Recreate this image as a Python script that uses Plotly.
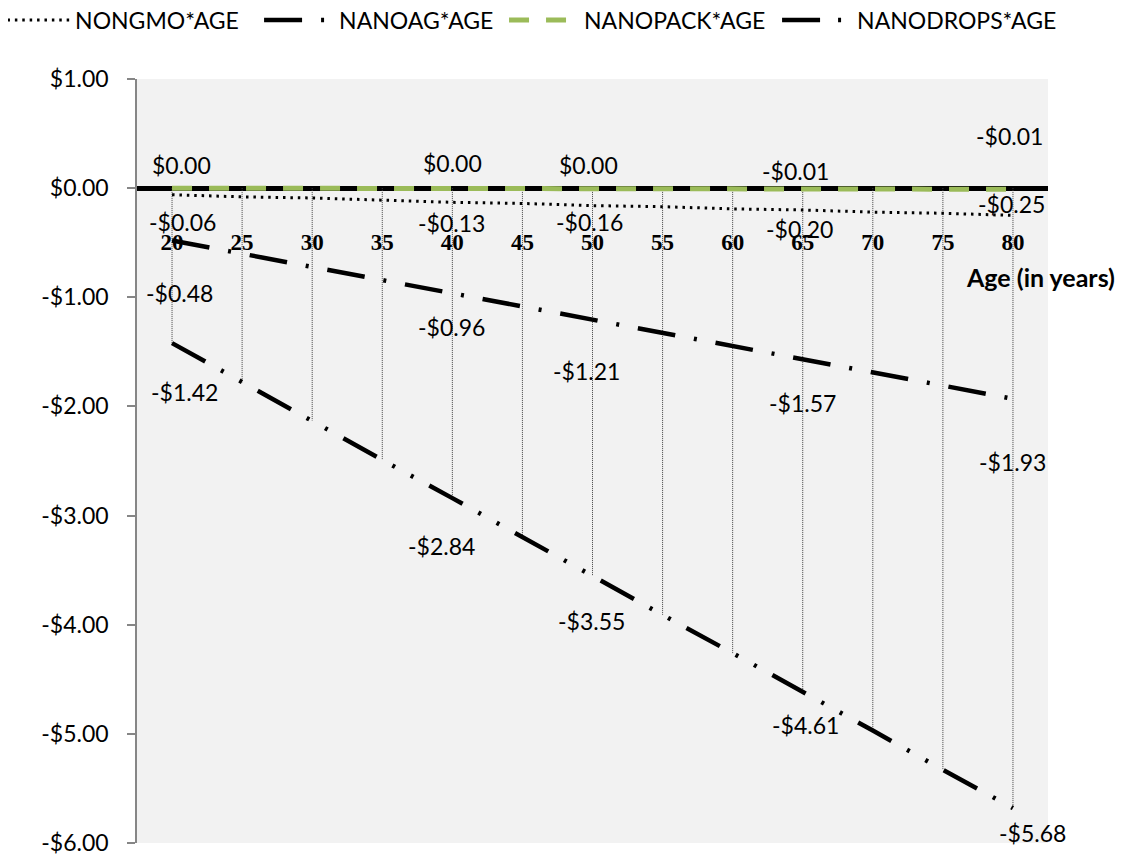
import plotly.graph_objects as go

# ---------------- data ----------------
ages = [20, 25, 30, 35, 40, 45, 50, 55, 60, 65, 70, 75, 80]
nongmo = [-0.06, -0.08, -0.09, -0.11, -0.13, -0.14, -0.16, -0.17, -0.19, -0.20, -0.22, -0.23, -0.25]
nanoag = [-0.48, -0.60, -0.72, -0.84, -0.96, -1.09, -1.21, -1.33, -1.45, -1.57, -1.69, -1.81, -1.93]
nanopack = [0.00, 0.00, 0.00, 0.00, 0.00, 0.00, 0.00, -0.01, -0.01, -0.01, -0.01, -0.01, -0.01]
nanodrops = [-1.42, -1.78, -2.13, -2.49, -2.84, -3.20, -3.55, -3.91, -4.26, -4.61, -4.97, -5.33, -5.68]
labeled_ages = [20, 40, 50, 65, 80]
series_names = ["NONGMO*AGE", "NANOAG*AGE", "NANOPACK*AGE", "NANODROPS*AGE"]
y_tick_vals = [1, 0, -1, -2, -3, -4, -5, -6]
y_tick_text = ["$1.00", "$0.00", "-$1.00", "-$2.00", "-$3.00", "-$4.00", "-$5.00", "-$6.00"]
x_tick_text = [str(a) for a in ages]
x_title = "Age (in years)"

series_values = dict(zip(series_names, [nongmo, nanoag, nanopack, nanodrops]))

# ---------------- style ----------------
styles = {
    "NONGMO*AGE": dict(color="black", width=3, dash="2.5px,4.9px"),
    "NANOAG*AGE": dict(color="black", width=4.5, dash="38px,19px,3px,19px"),
    "NANOPACK*AGE": dict(color="#9BBB59", width=5, dash="20px,17px"),
    "NANODROPS*AGE": dict(color="black", width=4.5, dash="38px,18px,3px,18px,3px,18px"),
}
# legend box left edge (paper x) for each entry
legend_x = {
    "NONGMO*AGE": -0.1558,
    "NANOAG*AGE": 0.1340,
    "NANOPACK*AGE": 0.4029,
    "NANODROPS*AGE": 0.7026,
}
# pixel offsets (dx right, dy down) of each data label from its point
label_offsets = {
    "NANOPACK*AGE": [(9, -23), (0, -25), (-4, -23), (-7, -18), (-3, -53)],
    "NONGMO*AGE": [(10, 27), (-1, 21), (-3, 16), (-3, 19), (-1, -11)],
    "NANOAG*AGE": [(7, 52), (-1, 34), (-6, 51), (0, 43), (0, 63)],
    "NANODROPS*AGE": [(12, 49), (-11, 48), (-1, 45), (3, 34), (20, 25)],
}
LABEL_FONT = dict(family="Lato", size=23, color="black")

# the page body adds an 8px offset; the figure is sized so it ends at the window edge
FIG_W, FIG_H = 1121, 847


def money(v):
    return ("-$%.2f" % abs(v)) if v < 0 else ("$%.2f" % v)


fig = go.Figure()

# drop lines from the axis (0) to the lowest series at each category
drop_x, drop_y = [], []
for i, a in enumerate(ages):
    low = min(series_values[n][i] for n in series_names)
    drop_x += [a, a, None]
    drop_y += [0, low, None]
fig.add_trace(go.Scatter(x=drop_x, y=drop_y, mode="lines", showlegend=False,
                         hoverinfo="skip",
                         line=dict(color="#404040", width=1, dash="1px,1px")))

legend_ids = ["legend", "legend2", "legend3", "legend4"]
for name, lid in zip(series_names, legend_ids):
    fig.add_trace(go.Scatter(x=ages, y=series_values[name], mode="lines", name=name,
                             line=styles[name], hoverinfo="skip", legend=lid))

annotations = []
for name in series_names:
    vals = series_values[name]
    for (a, (dx, dy)) in zip(labeled_ages, label_offsets[name]):
        v = vals[ages.index(a)]
        annotations.append(dict(x=a, y=v, xref="x", yref="y", text=money(v),
                                showarrow=False, xshift=dx, yshift=-dy,
                                font=LABEL_FONT, xanchor="center", yanchor="middle"))

annotations.append(dict(x=0.9923, y=0.7408, xref="paper", yref="paper", text=x_title,
                        showarrow=False, xanchor="center", yanchor="middle",
                        font=dict(family="Lato", size=25, color="black", weight="bold")))

ymin, ymax = min(y_tick_vals), max(y_tick_vals)

legend_common = dict(orientation="h", xanchor="left",
                     yref="container", y=1 - 12 / FIG_H, yanchor="middle",
                     font=dict(family="Lato", size=23, color="black"),
                     itemwidth=70, bgcolor="rgba(0,0,0,0)")
legend_layouts = {}
for name, lid in zip(series_names, legend_ids):
    d = dict(legend_common)
    d["x"] = legend_x[name]
    d["xref"] = "paper"
    legend_layouts[lid] = d

fig.update_layout(
    width=FIG_W, height=FIG_H,
    margin=dict(l=129, r=81, t=71, b=12, autoexpand=False),
    paper_bgcolor="white", plot_bgcolor="#F2F2F2",
    showlegend=True,
    annotations=annotations,
    xaxis=dict(range=[ages[0] - 2.5, ages[-1] + 2.5], tickvals=ages, ticktext=x_tick_text,
               ticks="", showline=True, linecolor="black", linewidth=5,
               anchor="free", position=(0 - ymin) / (ymax - ymin),
               showgrid=False, zeroline=False, layer="below traces",
               tickfont=dict(family="Liberation Serif", size=23, color="black", weight="bold"),
               ticklabelstandoff=31, fixedrange=True),
    yaxis=dict(range=[ymin, ymax], tickvals=y_tick_vals, ticktext=y_tick_text,
               ticks="outside", ticklen=8, tickcolor="#868686", tickwidth=1.5,
               showline=True, linecolor="#868686", linewidth=1.5,
               showgrid=False, zeroline=False, layer="below traces",
               tickfont=dict(family="Lato", size=23, color="black"),
               ticklabelstandoff=14, ticklabeloverflow="allow", fixedrange=True),
    **legend_layouts,
)

fig.write_html("out.html")
